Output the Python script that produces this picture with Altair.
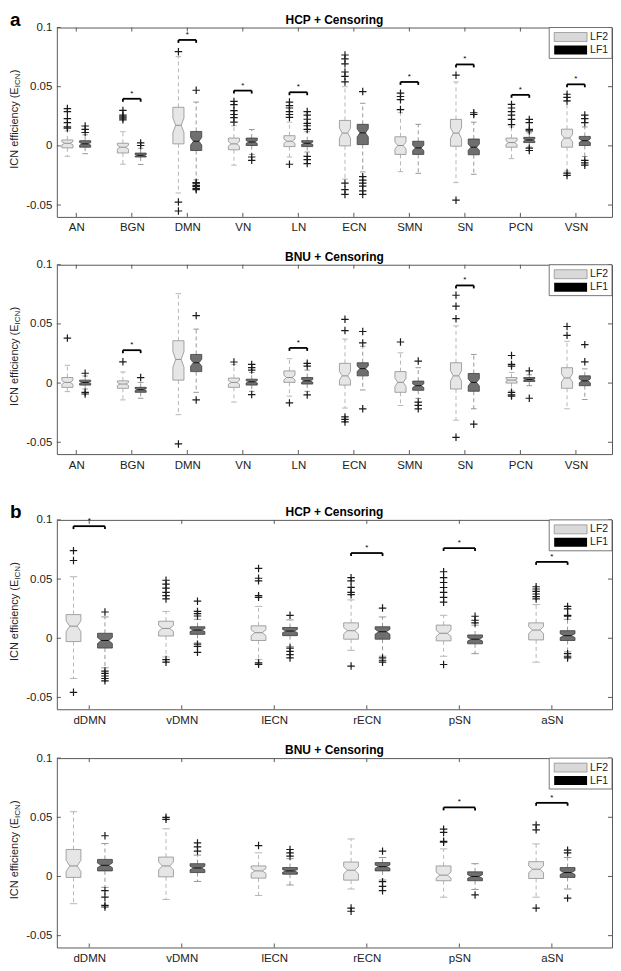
import json
import altair as alt
import pandas as pd

FONT = "Liberation Sans"
Y_MIN, Y_MAX = -0.06, 0.1
Y_TICKS = [-0.05, 0, 0.05, 0.1]

A_CATS = ["AN", "BGN", "DMN", "VN", "LN", "ECN", "SMN", "SN", "PCN", "VSN"]
B_CATS = ["dDMN", "vDMN", "lECN", "rECN", "pSN", "aSN"]

# box statistics per category: (lower whisker, q1, median, q3, upper whisker)
A_HCP_LF2 = [(-0.0088, -0.0017, 0.0022, 0.0050, 0.0127), (-0.0155, -0.0060, -0.0011, 0.0022, 0.0120),
             (-0.0398, 0.0017, 0.0174, 0.0326, 0.0754), (-0.0163, -0.0033, 0.0017, 0.0066, 0.0170),
             (-0.0094, -0.0006, 0.0039, 0.0086, 0.0200), (-0.0280, 0.0000, 0.0108, 0.0215, 0.0500),
             (-0.0218, -0.0072, 0.0003, 0.0077, 0.0280), (-0.0310, -0.0003, 0.0108, 0.0224, 0.0540),
             (-0.0108, -0.0011, 0.0028, 0.0066, 0.0160), (-0.0213, -0.0011, 0.0066, 0.0141, 0.0376)]
A_HCP_LF2_OUT = [[0.0315, 0.029, 0.023, 0.0196, 0.016, 0.015], [0.030, 0.026, 0.0245, 0.0235, 0.022],
                 [0.0796, -0.0475, -0.055], [0.0376, 0.0348, 0.0298, 0.0265, 0.0238, 0.020],
                 [0.037, 0.034, 0.032, 0.029, 0.0265, 0.024, -0.0155],
                 [0.0768, 0.0735, 0.0693, 0.0624, 0.0588, 0.054, -0.0315, -0.037, -0.041],
                 [0.0445, 0.0417, 0.039, 0.0307], [0.0597, -0.0459],
                 [0.035, 0.032, 0.029, 0.026, 0.0224, 0.018], [0.0436, 0.041, 0.038, -0.023, -0.025]]
A_HCP_LF1 = [(-0.0066, -0.0011, 0.0017, 0.0044, 0.0094), (-0.0157, -0.0094, -0.0080, -0.0061, -0.0020),
             (-0.0287, -0.0039, 0.0039, 0.0122, 0.0370), (-0.0072, 0.0003, 0.0033, 0.0066, 0.0138),
             (-0.0052, -0.0006, 0.0022, 0.0044, 0.0120), (-0.0220, 0.0011, 0.0110, 0.0182, 0.0360),
             (-0.0232, -0.0072, -0.0017, 0.0039, 0.0182), (-0.0240, -0.0075, -0.0011, 0.0058, 0.0200),
             (-0.0010, 0.0028, 0.0050, 0.0072, 0.0110), (-0.0090, 0.0003, 0.0044, 0.0080, 0.0160)]
A_HCP_LF1_OUT = [[0.0168, 0.014, 0.0113], [0.0025, 0.0003],
                 [0.047, -0.031, -0.032, -0.0335, -0.0345, -0.036, -0.037], [-0.0094, -0.0122],
                 [0.029, 0.026, 0.0225, 0.019, 0.017, 0.014, -0.0088, -0.0116, -0.015],
                 [0.0459, -0.026, -0.029, -0.0315, -0.034, -0.038, -0.041], [],
                 [0.028, 0.0265], [0.0224, 0.0196, 0.014, 0.0127, -0.0019, -0.0039],
                 [0.026, 0.023, 0.0196, -0.0122, -0.0144, -0.0163]]
A_HCP_SIG = [None, 0.0398, 0.0895, 0.0467, 0.0453, None, 0.054, 0.0688, 0.0431, 0.052]

A_BNU_LF2 = [(-0.0072, -0.0036, 0.0006, 0.0047, 0.0150), (-0.0142, -0.0044, -0.0008, 0.0019, 0.0094),
             (-0.0267, 0.0025, 0.0200, 0.0358, 0.0756), (-0.0160, -0.0036, 0.0006, 0.0042, 0.0158),
             (-0.0110, 0.0006, 0.0047, 0.0103, 0.0206), (-0.0211, -0.0017, 0.0061, 0.0167, 0.0372),
             (-0.0189, -0.0078, 0.0006, 0.0097, 0.0256), (-0.0314, -0.0050, 0.0061, 0.0172, 0.0483),
             (-0.0065, 0.0000, 0.0025, 0.0047, 0.0090), (-0.0217, -0.0044, 0.0044, 0.0130, 0.0353)]
A_BNU_LF2_OUT = [[0.038], [0.018], [-0.0514], [0.0178], [-0.0167],
                 [0.0539, 0.0444, -0.0286, -0.0306, -0.0328], [0.0347],
                 [0.0742, 0.065, 0.0544, -0.0458], [0.0233, 0.0158, 0.0144, -0.0078, -0.010, -0.011],
                 [0.0478, 0.0403]]
A_BNU_LF1 = [(-0.0050, -0.0017, 0.0006, 0.0025, 0.0060), (-0.0128, -0.0078, -0.0056, -0.0036, 0.0006),
             (-0.0078, 0.0097, 0.0172, 0.0242, 0.0456), (-0.0070, -0.0017, 0.0011, 0.0033, 0.0090),
             (-0.0070, -0.0008, 0.0019, 0.0047, 0.0110), (-0.0058, 0.0061, 0.0122, 0.0172, 0.0311),
             (-0.0130, -0.0061, -0.0022, 0.0017, 0.0130), (-0.0217, -0.0069, 0.0006, 0.0081, 0.0242),
             (-0.0022, 0.0014, 0.0030, 0.0047, 0.0070), (-0.0139, -0.0022, 0.0019, 0.0061, 0.0120)]
A_BNU_LF1_OUT = [[0.0083, -0.0078, -0.0092], [0.0047], [0.057, -0.0142],
                 [0.0158, 0.013, 0.011, -0.0097], [0.0167, 0.0144, -0.010],
                 [0.0436, 0.0339, -0.0217], [0.0186, -0.0161, -0.0189, -0.0217], [-0.0347],
                 [0.0103, -0.0128], [0.0325, 0.018]]
A_BNU_SIG = [None, 0.0278, None, None, 0.0297, None, None, 0.0825, None, None]

B_HCP_LF2 = [(-0.0340, -0.0028, 0.0102, 0.0200, 0.0520), (-0.0158, 0.0019, 0.0083, 0.0144, 0.0227),
             (-0.0180, -0.0019, 0.0047, 0.0105, 0.0269), (-0.0102, -0.0008, 0.0064, 0.0130, 0.0324),
             (-0.0152, -0.0022, 0.0042, 0.0111, 0.0194), (-0.0202, -0.0014, 0.0069, 0.0130, 0.0285)]
B_HCP_LF2_OUT = [[0.074, 0.0657, -0.0457],
                 [0.049, 0.0457, 0.0424, 0.0388, 0.036, 0.0332, -0.018, -0.0202],
                 [0.059, 0.0507, 0.0485, 0.036, 0.0346, -0.0208, -0.022],
                 [0.0512, 0.0485, 0.043, 0.0388, 0.0368, -0.0235],
                 [0.0562, 0.0512, 0.0471, 0.0429, 0.0388, 0.0346, 0.0305, -0.0222],
                 [0.0435, 0.0416, 0.0396, 0.0374, 0.0352, 0.0332]]
B_HCP_LF1 = [(-0.0250, -0.0083, -0.0019, 0.0042, 0.0180), (-0.0040, 0.0033, 0.0069, 0.0097, 0.0160),
             (-0.0070, 0.0022, 0.0061, 0.0091, 0.0155), (-0.0152, -0.0008, 0.0055, 0.0097, 0.0180),
             (-0.0130, -0.0047, -0.0008, 0.0028, 0.0110), (-0.0115, -0.0019, 0.0022, 0.0064, 0.0160)]
B_HCP_LF1_OUT = [[0.0222, -0.0277, -0.0296, -0.0319, -0.034, -0.036],
                 [0.0313, 0.0227, 0.0208, 0.0188, -0.005, -0.0069, -0.0119],
                 [0.0194, -0.0083, -0.0111, -0.0139, -0.0166],
                 [0.0255, -0.0166, -0.0186, -0.0202], [0.0186, 0.0152, 0.013],
                 [0.0269, 0.0249, 0.0194, 0.0186, -0.013, -0.0152, -0.0166]]
B_HCP_SIG = [0.0947, None, None, 0.072, 0.0762, 0.0645]

B_BNU_LF2 = [(-0.0230, -0.0008, 0.0089, 0.0228, 0.0547), (-0.0194, -0.0003, 0.0089, 0.0164, 0.0403),
             (-0.0161, -0.0014, 0.0047, 0.0089, 0.0200), (-0.0106, -0.0031, 0.0053, 0.0122, 0.0317),
             (-0.0175, -0.0036, 0.0011, 0.0089, 0.0233), (-0.0175, -0.0017, 0.0061, 0.0125, 0.0275)]
B_BNU_LF2_OUT = [[], [0.050, 0.0483], [0.0261], [-0.0267, -0.0294],
                 [0.040, 0.0372, 0.0297, 0.0289], [0.0436, 0.0394, -0.0267]]
B_BNU_LF1 = [(-0.0092, 0.0047, 0.0094, 0.0144, 0.0278), (-0.0042, 0.0033, 0.0072, 0.0108, 0.0180),
             (-0.0072, 0.0019, 0.0047, 0.0075, 0.0150), (-0.0030, 0.0047, 0.0083, 0.0117, 0.0160),
             (-0.0110, -0.0036, 0.0000, 0.0039, 0.0108), (-0.0106, -0.0008, 0.0033, 0.0075, 0.0160)]
B_BNU_LF1_OUT = [[0.0344, -0.012, -0.0175, -0.0244, -0.0258], [0.0283, 0.025, 0.0214],
                 [0.0228, 0.020, 0.0172], [0.0214, -0.0044, -0.0083, -0.012], [-0.0156],
                 [0.0222, 0.020, -0.0183]]
B_BNU_SIG = [None, None, None, None, 0.0583, 0.0622]

SERIES = ["LF2", "LF1"]

STY = {
    "LF2": dict(fill="#e6e6e6", stroke="#8f8f8f", whisk="#b0b0b0", med="#8f8f8f"),
    "LF1": dict(fill="#6f6f6f", stroke="#3d3d3d", whisk="#8c8c8c", med="#111111"),
}
NOTCH = 0.2
LEG = 0.0025
W = 557
H = 190


def one_row():
    return alt.Chart(pd.DataFrame({"o": [0]}))


def build_panel(cats, s2, o2, s1, o1, sig, title, letter, off, hw):
    n = len(cats)
    xs = alt.Scale(domain=[0.65, n + 0.65], nice=False, zero=False)
    ys = alt.Scale(domain=[Y_MIN, Y_MAX], nice=False, zero=False)
    box_rows, wh_rows, cap_rows, med_rows, out_rows = [], [], [], [], []
    for name, dx, stats, outs in (("LF2", -off, s2, o2), ("LF1", off, s1, o1)):
        sty = STY[name]
        for i, (wlo, q1, med, q3, whi) in enumerate(stats):
            c = i + 1 + dx
            nt = NOTCH * (q3 - q1)
            pts = [(q1, hw)]
            if med - nt > q1 + 1e-9:
                pts.append((med - nt, hw))
            pts.append((med, hw * 0.5))
            if med + nt < q3 - 1e-9:
                pts.append((med + nt, hw))
            pts.append((q3, hw))
            for k, (yy, h) in enumerate(pts):
                box_rows.append(dict(box=f"{name}{i}", k=k, y=yy, xl=c - h, xr=c + h,
                                     fill=sty["fill"], stroke=sty["stroke"]))
            wh_rows.append(dict(x=c, y=q3, y2=whi, col=sty["whisk"]))
            wh_rows.append(dict(x=c, y=q1, y2=wlo, col=sty["whisk"]))
            cap_rows.append(dict(x=c - hw * 0.5, x2=c + hw * 0.5, y=whi, col=sty["whisk"]))
            cap_rows.append(dict(x=c - hw * 0.5, x2=c + hw * 0.5, y=wlo, col=sty["whisk"]))
            med_rows.append(dict(x=c - hw * 0.5, x2=c + hw * 0.5, y=med, col=sty["med"]))
            for v in outs[i]:
                out_rows.append(dict(x=c, y=v))
    brh, brv, star = [], [], []
    for i, b in enumerate(sig):
        if b is None:
            continue
        g = i + 1
        brh.append(dict(x=g - off, x2=g + off, y=b))
        brv.append(dict(x=g - off, y=b, y2=b - LEG))
        brv.append(dict(x=g + off, y=b, y2=b - LEG))
        star.append(dict(x=g, y=b))

    xaxis = alt.Axis(values=list(range(1, n + 1)), title=None,
                     labelExpr=f"{json.dumps(cats)}[datum.value - 1]")
    yaxis = alt.Axis(values=Y_TICKS, title=None, labelExpr="'' + datum.value")

    def X(f, **kw):
        return alt.X(f, type="quantitative", scale=xs, axis=xaxis, **kw)

    def Y(f):
        return alt.Y(f, type="quantitative", scale=ys, axis=yaxis)

    whisk = alt.Chart(pd.DataFrame(wh_rows)).mark_rule(strokeDash=[4, 3], strokeWidth=0.9).encode(
        x=X("x"), y=Y("y"), y2="y2:Q", stroke=alt.Stroke("col:N", scale=None))
    caps = alt.Chart(pd.DataFrame(cap_rows)).mark_rule(strokeWidth=0.9).encode(
        x=X("x"), x2="x2:Q", y=Y("y"), stroke=alt.Stroke("col:N", scale=None))
    boxes = alt.Chart(pd.DataFrame(box_rows)).mark_area(orient="horizontal", strokeWidth=0.8).encode(
        y=Y("y"), x=X("xl", stack=None), x2="xr:Q",
        detail="box:N", fill=alt.Fill("fill:N", scale=None), stroke=alt.Stroke("stroke:N", scale=None))
    meds = alt.Chart(pd.DataFrame(med_rows)).mark_rule(strokeWidth=1).encode(
        x=X("x"), x2="x2:Q", y=Y("y"), stroke=alt.Stroke("col:N", scale=None))
    outl = alt.Chart(pd.DataFrame(out_rows)).mark_point(
        shape="M-1,0H1M0,-1V1", size=56, filled=False, strokeWidth=1.2, color="#1a1a1a", opacity=1
    ).encode(x=X("x"), y=Y("y"))
    bh = alt.Chart(pd.DataFrame(brh)).mark_rule(strokeWidth=1.8, color="black").encode(
        x=X("x"), x2="x2:Q", y=Y("y"))
    bv = alt.Chart(pd.DataFrame(brv)).mark_rule(strokeWidth=1.8, color="black").encode(
        x=X("x"), y=Y("y"), y2="y2:Q")
    st = alt.Chart(pd.DataFrame(star)).mark_text(text="*", fontSize=8, baseline="bottom", dy=-1,
                                                 font=FONT, color="black").encode(x=X("x"), y=Y("y"))

    ytk = pd.DataFrame({"v": Y_TICKS})
    xtk = pd.DataFrame({"v": list(range(1, n + 1))})
    tick_col = "#595959"
    yt_l = alt.Chart(ytk).mark_rule(color=tick_col).encode(y=Y("v"), x=alt.value(0), x2=alt.value(4))
    yt_r = alt.Chart(ytk).mark_rule(color=tick_col).encode(y=Y("v"), x=alt.value(W - 4), x2=alt.value(W))
    xt_t = alt.Chart(xtk).mark_rule(color=tick_col).encode(x=X("v"), y=alt.value(0), y2=alt.value(4))
    xt_b = alt.Chart(xtk).mark_rule(color=tick_col).encode(x=X("v"), y=alt.value(H - 4), y2=alt.value(H))

    # legend (top-right, inside plot)
    frame = one_row().mark_rect(fill="white", stroke="#555555", strokeWidth=0.8).encode(
        x=alt.value(W - 63), x2=alt.value(W), y=alt.value(0), y2=alt.value(31))
    sw2 = one_row().mark_rect(fill="#d9d9d9", stroke="#777777", strokeWidth=0.6).encode(
        x=alt.value(W - 58), x2=alt.value(W - 25), y=alt.value(5), y2=alt.value(14))
    sw1 = one_row().mark_rect(fill="#000000").encode(
        x=alt.value(W - 58), x2=alt.value(W - 25), y=alt.value(18), y2=alt.value(27))
    lt2 = one_row().mark_text(text=SERIES[0], align="left", baseline="middle", fontSize=10.5,
                              font=FONT, color="#222").encode(x=alt.value(W - 22), y=alt.value(9.5))
    lt1 = one_row().mark_text(text=SERIES[1], align="left", baseline="middle", fontSize=10.5,
                              font=FONT, color="#222").encode(x=alt.value(W - 22), y=alt.value(22.5))

    # y axis title with subscript
    c = H / 2 - 3
    A = c + 50 - 82
    tx = -42
    ytm = one_row().mark_text(text="ICN efficiency (E", angle=270, align="right", baseline="middle",
                              fontSize=11, font=FONT, color="#222").encode(x=alt.value(tx), y=alt.value(A))
    yts = one_row().mark_text(text="ICN", angle=270, align="left", baseline="middle",
                              fontSize=8, font=FONT, color="#222").encode(x=alt.value(tx + 3.5), y=alt.value(A))
    ytp = one_row().mark_text(text=")", angle=270, align="left", baseline="middle",
                              fontSize=11, font=FONT, color="#222").encode(x=alt.value(tx), y=alt.value(A - 14))

    # panel title
    ttl = one_row().mark_text(text=title, align="center", baseline="alphabetic", fontSize=12,
                              fontWeight="bold", font=FONT, color="black").encode(
        x=alt.value(W / 2), y=alt.value(-4))

    layers = [whisk, caps, boxes, meds, outl, bh, bv, st, yt_l, yt_r, xt_t, xt_b,
              frame, sw2, sw1, lt2, lt1, ytm, yts, ytp, ttl]
    if letter:
        lab = one_row().mark_text(text=letter, align="left", baseline="alphabetic", fontSize=19,
                                  fontWeight="bold", font=FONT, color="black").encode(
            x=alt.value(-47), y=alt.value(-2))
        layers.append(lab)
    return alt.layer(*layers).properties(width=W, height=H)


p1 = build_panel(A_CATS, A_HCP_LF2, A_HCP_LF2_OUT, A_HCP_LF1, A_HCP_LF1_OUT, A_HCP_SIG,
                 "HCP + Censoring", "a", 0.16, 0.1)
p2 = build_panel(A_CATS, A_BNU_LF2, A_BNU_LF2_OUT, A_BNU_LF1, A_BNU_LF1_OUT, A_BNU_SIG,
                 "BNU + Censoring", None, 0.16, 0.1)
p3 = build_panel(B_CATS, B_HCP_LF2, B_HCP_LF2_OUT, B_HCP_LF1, B_HCP_LF1_OUT, B_HCP_SIG,
                 "HCP + Censoring", "b", 0.17, 0.08)
p4 = build_panel(B_CATS, B_BNU_LF2, B_BNU_LF2_OUT, B_BNU_LF1, B_BNU_LF1_OUT, B_BNU_SIG,
                 "BNU + Censoring", None, 0.17, 0.08)

chart = alt.vconcat(
    alt.vconcat(p1, p2, spacing=16),
    alt.vconcat(p3, p4, spacing=17),
    spacing=31,
).properties(padding=0).configure_view(
    stroke="#595959", strokeWidth=1
).configure_axis(
    labelFont=FONT, labelFontSize=11.5, labelColor="#222222", grid=False, domain=False, ticks=False
).configure_axisX(labelPadding=5).configure_axisY(labelPadding=5)

chart.save("out.html", embed_options={"renderer": "svg", "actions": False})
